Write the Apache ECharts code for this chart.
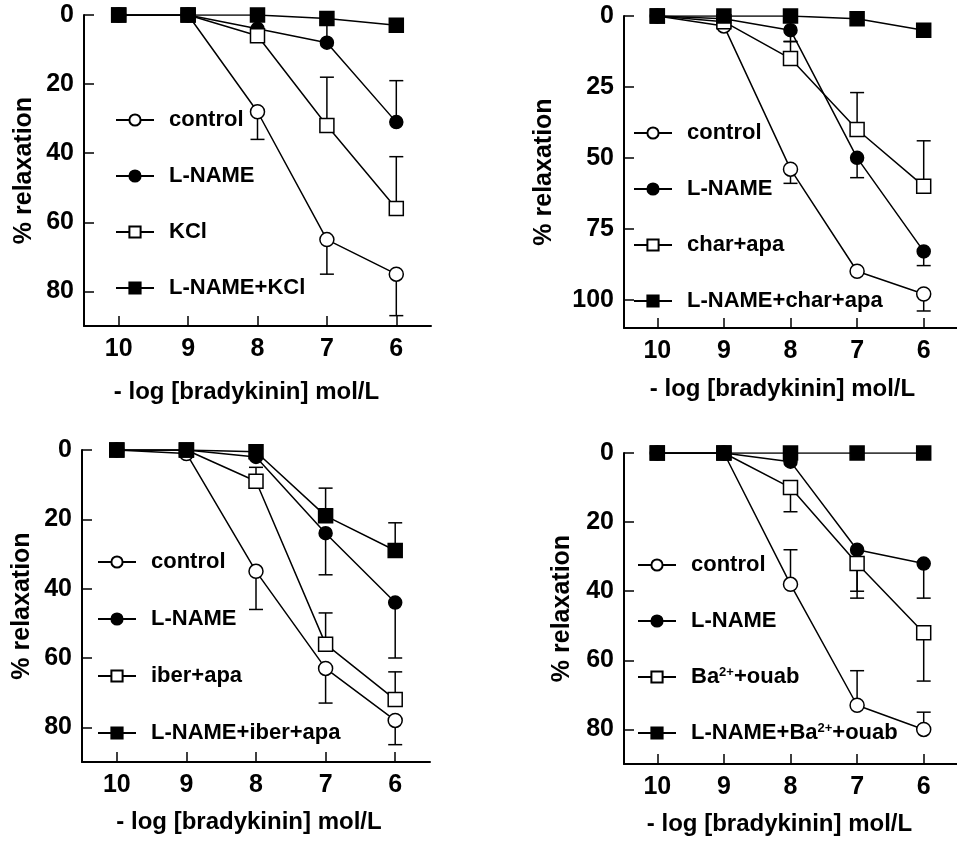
<!DOCTYPE html>
<html><head><meta charset="utf-8">
<script src="https://cdn.jsdelivr.net/npm/echarts@6/dist/echarts.min.js"></script>
<style>html,body{margin:0;padding:0;background:#fff}#c{width:957px;height:841px}</style>
</head><body><div id="c"></div>
<script>
// ---------- data ----------
const doses = [10, 9, 8, 7, 6];
const xTickValues = [10, 9, 8, 7, 6];
const yTicks90 = [0, 20, 40, 60, 80];
const yTicks110 = [0, 25, 50, 75, 100];
const xTitle = '- log [bradykinin] mol/L';
const yTitle = '% relaxation';

// panel A (top left)
const aNames = ['control', 'L-NAME', 'KCl', 'L-NAME+KCl'];
const aControl = [0, 0, 28, 65, 75];
const aLname = [0, 0, 4, 8, 31];
const aKcl = [0, 0, 6, 32, 56];
const aLnameKcl = [0, 0, 0, 1, 3];
// signed SEM (positive = drawn downward, negative = upward)
const aControlErr = [0, 0, 8, 10, 12];
const aLnameErr = [0, 0, 0, -6, -12];
const aKclErr = [0, 0, 0, -14, -15];
const aLnameKclErr = [0, 0, 0, 0, 0];

// panel B (top right)
const bNames = ['control', 'L-NAME', 'char+apa', 'L-NAME+char+apa'];
const bControl = [0, 3.5, 54, 90, 98];
const bLname = [0, 1, 5, 50, 83];
const bCharApa = [0, 2, 15, 40, 60];
const bLnameCharApa = [0, 0, 0, 1, 5];
const bControlErr = [0, 0, 5, 0, 6];
const bLnameErr = [0, 0, 4, 7, 5];
const bCharApaErr = [0, 0, -6, -13, -16];
const bLnameCharApaErr = [0, 0, 0, 0, 0];

// panel C (bottom left)
const cNames = ['control', 'L-NAME', 'iber+apa', 'L-NAME+iber+apa'];
const cControl = [0, 1, 35, 63, 78];
const cLname = [0, 0, 2, 24, 44];
const cIberApa = [0, 0, 9, 56, 72];
const cLnameIberApa = [0, 0, 0.5, 19, 29];
const cControlErr = [0, 0, 11, 10, 7];
const cLnameErr = [0, 0, 0, 12, 16];
const cIberApaErr = [0, 0, -4, -9, -8];
const cLnameIberApaErr = [0, 0, 0, -8, -8];

// panel D (bottom right)
const dNames = ['control', 'L-NAME', 'Ba2++ouab', 'L-NAME+Ba2++ouab'];
const dControl = [0, 0, 38, 73, 80];
const dLname = [0, 0, 2.5, 28, 32];
const dBaOuab = [0, 0, 10, 32, 52];
const dLnameBaOuab = [0, 0, 0, 0, 0];
const dControlErr = [0, 0, -10, -10, -5];
const dLnameErr = [0, 0, 0, 12, 10];
const dBaOuabErr = [0, 0, 7, 10, 14];
const dLnameBaOuabErr = [0, 0, 0, 0, 0];

// ---------- layout / style ----------
const FONT = "'Liberation Sans', Arial, Helvetica, sans-serif";
const kinds = [
  {symbol: 'circle', size: 14, fill: '#fff'},
  {symbol: 'circle', size: 13, fill: '#000'},
  {symbol: 'rect', size: 14, fill: '#fff'},
  {symbol: 'rect', size: 14, fill: '#000'}
];
const panels = [
  {names: aNames, values: [aControl, aLname, aKcl, aLnameKcl], errs: [aControlErr, aLnameErr, aKclErr, aLnameKclErr],
   yMax: 90, yTicks: yTicks90, grid: {left: 84, top: 15, width: 347, height: 311},
   legend: {left: 115, top: 109, itemGap: 34}, yNameGap: 47, xNameGap: 54, xNamePad: 22},
  {names: bNames, values: [bControl, bLname, bCharApa, bLnameCharApa], errs: [bControlErr, bLnameErr, bCharApaErr, bLnameCharApaErr],
   yMax: 110, yTicks: yTicks110, grid: {left: 624, top: 16, width: 344, height: 312},
   legend: {left: 633, top: 122, itemGap: 34}, yNameGap: 67, xNameGap: 49, xNamePad: 16},
  {names: cNames, values: [cControl, cLname, cIberApa, cLnameIberApa], errs: [cControlErr, cLnameErr, cIberApaErr, cLnameIberApaErr],
   yMax: 90, yTicks: yTicks90, grid: {left: 82, top: 450, width: 348, height: 312},
   legend: {left: 97, top: 551, itemGap: 35}, yNameGap: 47, xNameGap: 48, xNamePad: 14},
  {names: dNames, values: [dControl, dLname, dBaOuab, dLnameBaOuab], errs: [dControlErr, dLnameErr, dBaOuabErr, dLnameBaOuabErr],
   yMax: 90, yTicks: yTicks90, grid: {left: 624, top: 453, width: 342, height: 311},
   legend: {left: 637, top: 554, itemGap: 34}, yNameGap: 49, xNameGap: 48, xNamePad: 22}
];

function renderErr(params, api) {
  const x = api.value(0), y = api.value(1), e = api.value(2);
  const p0 = api.coord([x, y]);
  const p1 = api.coord([x, y + e]);
  return {type: 'group', children: [
    {type: 'line', shape: {x1: p0[0], y1: p0[1], x2: p1[0], y2: p1[1]}, style: {stroke: '#000', lineWidth: 1.5}},
    {type: 'line', shape: {x1: p1[0] - 7, y1: p1[1], x2: p1[0] + 7, y2: p1[1]}, style: {stroke: '#000', lineWidth: 1.5}}
  ]};
}

const grids = [], xAxes = [], yAxes = [], legends = [], series = [];
const labelStyle = {color: '#000', fontSize: 25, fontWeight: 'bold', fontFamily: FONT};

panels.forEach((p, i) => {
  grids.push(Object.assign({}, p.grid));
  xAxes.push({
    gridIndex: i, type: 'value', inverse: true, min: 5.5, max: 10.5, position: 'bottom',
    axisLine: {onZero: false, lineStyle: {color: '#000', width: 2}},
    axisTick: {inside: true, length: 10, customValues: xTickValues, lineStyle: {color: '#000', width: 1.5}},
    axisLabel: Object.assign({customValues: xTickValues, margin: 11}, labelStyle),
    splitLine: {show: false},
    name: xTitle, nameLocation: 'middle', nameGap: p.xNameGap,
    nameTextStyle: {color: '#000', fontSize: 24, fontWeight: 'bold', fontFamily: FONT, padding: [0, p.xNamePad, 0, 0]}
  });
  yAxes.push({
    gridIndex: i, type: 'value', inverse: true, min: 0, max: p.yMax, position: 'left',
    axisLine: {show: true, onZero: false, lineStyle: {color: '#000', width: 2}},
    axisTick: {show: true, inside: true, length: 10, customValues: p.yTicks, lineStyle: {color: '#000', width: 1.5}},
    axisLabel: Object.assign({customValues: p.yTicks, margin: 10}, labelStyle),
    splitLine: {show: false},
    name: yTitle, nameLocation: 'middle', nameGap: p.yNameGap,
    nameTextStyle: {color: '#000', fontSize: 25, fontWeight: 'bold', fontFamily: FONT}
  });
  legends.push({
    left: p.legend.left, top: p.legend.top, orient: 'vertical', itemGap: p.legend.itemGap, padding: 0,
    itemWidth: 38, itemHeight: 14, selectedMode: false, data: p.names,
    formatter: function (name) { return name.replace('Ba2+', 'Ba{sup|2+}'); },
    textStyle: {color: '#000', fontSize: 22, fontWeight: 'bold', fontFamily: FONT, lineHeight: 22, padding: [0, 0, 0, 10],
      rich: {sup: {fontSize: 13, fontWeight: 'bold', fontFamily: FONT, color: '#000', verticalAlign: 'top', lineHeight: 13}}}
  });
  const errData = [];
  p.names.forEach((nm, k) => {
    series.push({
      type: 'line', name: nm, xAxisIndex: i, yAxisIndex: i,
      data: doses.map((d, j) => [d, p.values[k][j]]),
      symbol: kinds[k].symbol, symbolSize: kinds[k].size,
      itemStyle: {color: kinds[k].fill, borderColor: '#000', borderWidth: 1.5},
      lineStyle: {color: '#000', width: 1.5},
      z: 3, animation: false, silent: true
    });
    doses.forEach((d, j) => {
      if (p.errs[k][j] !== 0) errData.push([d, p.values[k][j], p.errs[k][j]]);
    });
  });
  series.push({
    type: 'custom', xAxisIndex: i, yAxisIndex: i, z: 1, animation: false, silent: true,
    dimensions: ['x', 'y', 'err'], encode: {x: 0, y: 1},
    renderItem: renderErr, data: errData
  });
});

const chart = echarts.init(document.getElementById('c'), null, {renderer: 'canvas'});
chart.setOption({
  backgroundColor: '#fff', animation: false,
  grid: grids, xAxis: xAxes, yAxis: yAxes, legend: legends, series: series
});
</script>
</body></html>
